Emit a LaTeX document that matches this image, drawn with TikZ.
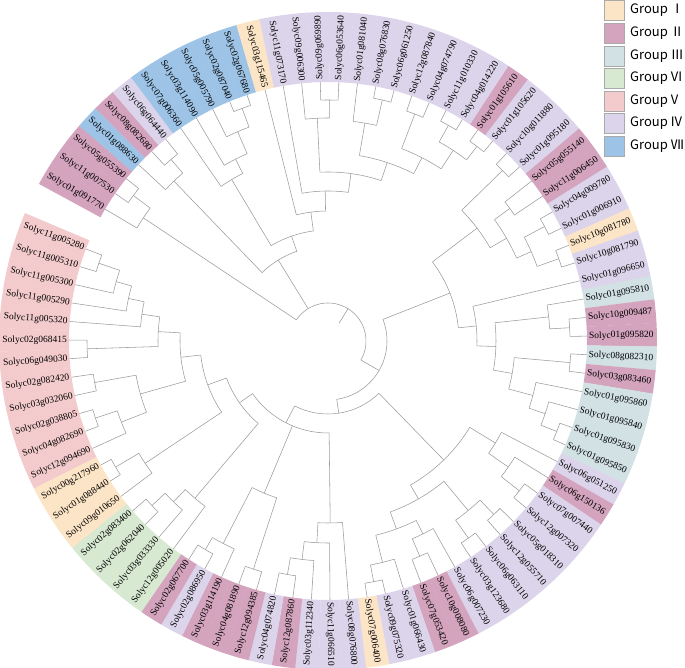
\documentclass[tikz,border=0pt]{standalone}
\usepackage{fontspec}
\setmainfont{Liberation Serif}
\newfontfamily\legfont{Noto Sans CJK SC}
\definecolor{gI}{RGB}{252,228,198}
\definecolor{gII}{RGB}{212,164,190}
\definecolor{gIII}{RGB}{209,225,228}
\definecolor{gVI}{RGB}{216,233,210}
\definecolor{gV}{RGB}{244,203,204}
\definecolor{gIV}{RGB}{220,212,234}
\definecolor{gVII}{RGB}{157,196,230}
\definecolor{treegray}{RGB}{155,155,155}
\definecolor{boxgray}{RGB}{170,170,170}
\def\leaflist{1/gII/Solyc01g091770, 2/gII/Solyc11g007530, 3/gII/Solyc05g055390, 4/gVII/Solyc01g088630, 5/gII/Solyc08g082680, 6/gIV/Solyc06g064440, 7/gVII/Solyc07g006360, 8/gVII/Solyc03g114090, 9/gVII/Solyc05g005790, 10/gVII/Solyc02g087040, 11/gVII/Solyc02g067680, 12/gI/Solyc03g115465, 13/gIV/Solyc11g073170, 14/gIV/Solyc09g006300, 15/gIV/Solyc09g069890, 16/gIV/Solyc06g053640, 17/gIV/Solyc01g081040, 18/gIV/Solyc08g076830, 19/gIV/Solyc06g061250, 20/gIV/Solyc12g087840, 21/gIV/Solyc04g074790, 22/gIV/Solyc11g010330, 23/gIV/Solyc04g014220, 24/gII/Solyc01g105610, 25/gIV/Solyc01g105620, 26/gIV/Solyc10g011880, 27/gIV/Solyc01g095180, 28/gII/Solyc05g055140, 29/gII/Solyc11g006450, 30/gIV/Solyc04g009780, 31/gIV/Solyc01g006910, 32/gI/Solyc10g081780, 33/gIV/Solyc10g081790, 34/gIV/Solyc01g096650, 35/gIII/Solyc01g095810, 36/gII/Solyc10g009487, 37/gII/Solyc01g095820, 38/gIII/Solyc08g082310, 39/gII/Solyc03g083460, 40/gIII/Solyc01g095860, 41/gIII/Solyc01g095840, 42/gIII/Solyc01g095830, 43/gIII/Solyc01g095850, 44/gIV/Solyc06g051250, 45/gII/Solyc06g150136, 46/gIV/Solyc07g007440, 47/gIV/Solyc12g007320, 48/gIV/Solyc05g018310, 49/gIV/Solyc12g055710, 50/gIV/Solyc06g063110, 51/gIV/Solyc03g123680, 52/gIV/Solyc06g007230, 53/gII/Solyc10g008080, 54/gII/Solyc07g053420, 55/gIV/Solyc01g066430, 56/gIV/Solyc09g075320, 57/gI/Solyc07g006400, 58/gIV/Solyc08g076800, 59/gIV/Solyc11g066510, 60/gIV/Solyc03g112340, 61/gII/Solyc12g087860, 62/gIV/Solyc04g074820, 63/gII/Solyc12g094385, 64/gII/Solyc04g081890, 65/gII/Solyc03g114190, 66/gIV/Solyc02g086950, 67/gII/Solyc02g067700, 68/gVI/Solyc12g005020, 69/gVI/Solyc03g033330, 70/gVI/Solyc02g062040, 71/gVI/Solyc02g083400, 72/gI/Solyc09g010650, 73/gI/Solyc01g088440, 74/gI/Solyc00g217960, 75/gV/Solyc12g094690, 76/gV/Solyc04g082690, 77/gV/Solyc02g038805, 78/gV/Solyc03g032060, 79/gV/Solyc02g082420, 80/gV/Solyc06g049030, 81/gV/Solyc02g068415, 82/gV/Solyc11g005320, 83/gV/Solyc11g005290, 84/gV/Solyc11g005300, 85/gV/Solyc11g005310, 86/gV/Solyc11g005280}
% internal node of a circular tree: name, radius, child 1, child 2
\newcommand\cl[4]{%
  \pgfmathsetmacro\clA{\csname a@#3\endcsname}%
  \pgfmathsetmacro\clB{\csname a@#4\endcsname}%
  \pgfmathsetmacro\clM{(\clA+\clB)/2}%
  \global\expandafter\let\csname a@#1\endcsname\clM
  \expandafter\xdef\csname r@#1\endcsname{#2}%
  \edef\rA{\csname r@#3\endcsname}\edef\rB{\csname r@#4\endcsname}%
  \draw[tree] (\clA:#2pt) arc[start angle=\clA, end angle=\clB, radius=#2pt];
  \draw[tree] (\clA:#2pt) -- (\clA:\rA pt);
  \draw[tree] (\clB:#2pt) -- (\clB:\rB pt);
}
% three children
\newcommand\clt[5]{%
  \pgfmathsetmacro\clA{\csname a@#3\endcsname}%
  \pgfmathsetmacro\clB{\csname a@#4\endcsname}%
  \pgfmathsetmacro\clC{\csname a@#5\endcsname}%
  \pgfmathsetmacro\clM{(\clA+\clC)/2}%
  \global\expandafter\let\csname a@#1\endcsname\clM
  \expandafter\xdef\csname r@#1\endcsname{#2}%
  \edef\rA{\csname r@#3\endcsname}\edef\rB{\csname r@#4\endcsname}\edef\rC{\csname r@#5\endcsname}%
  \draw[tree] (\clA:#2pt) arc[start angle=\clA, end angle=\clC, radius=#2pt];
  \draw[tree] (\clA:#2pt) -- (\clA:\rA pt);
  \draw[tree] (\clB:#2pt) -- (\clB:\rB pt);
  \draw[tree] (\clC:#2pt) -- (\clC:\rC pt);
}
\begin{document}
\begin{tikzpicture}[x=1pt,y=1pt,
  tree/.style={draw=treegray, line width=0.55pt},
  lab/.style={inner sep=0pt, font=\fontsize{9.5}{10}\selectfont},
  legbox/.style={draw=boxgray, line width=0.6pt},
  legtext/.style={anchor=west, inner sep=0pt, font=\legfont\fontsize{13}{15}\selectfont}]
\useasboundingbox (0,0) rectangle (685,668);
\clip (0,0) rectangle (685,668);
\begin{scope}[shift={(328,327)}]
% bands and leaf angles
\foreach \i/\g/\t in \leaflist {
  \pgfmathsetmacro\a{149.4-4.12*(\i-1)}
  \global\expandafter\let\csname a@\i\endcsname\a
  \expandafter\gdef\csname r@\i\endcsname{259}
  \pgfmathsetmacro\aa{\a-2.08}
  \pgfmathsetmacro\ab{\a+2.08}
  \fill[\g] (\aa:259pt) arc[start angle=\aa, end angle=\ab, radius=259pt]
     -- (\ab:329pt) arc[start angle=\ab, end angle=\aa, radius=329pt] -- cycle;
}
% labels
\foreach \i/\g/\t in \leaflist {
  \pgfmathsetmacro\a{149.4-4.12*(\i-1)}
  \pgfmathtruncatemacro\flip{cos(\a)<-0.04 ? 1 : 0}
  \ifnum\flip=1
    \pgfmathsetmacro\ra{\a+180}
    \node[lab, anchor=east, rotate=\ra] (L\i) at (\a:261pt) {\t};
  \else
    \node[lab, anchor=west, rotate=\a] (L\i) at (\a:261pt) {\t};
  \fi
}
% tree: upper left
\cl{n23}{243}{2}{3}
\cl{nA}{222}{1}{n23}
\cl{n56}{240}{5}{6}
\cl{n46}{222}{4}{n56}
\cl{n1011}{248}{10}{11}
\cl{n911}{228}{9}{n1011}
\cl{n811}{204}{8}{n911}
\cl{n711}{188}{7}{n811}
% top
\cl{s15}{241}{15}{16}
\cl{s14}{223}{14}{s15}
\cl{s18}{247}{18}{19}
\cl{s17}{221}{17}{s18}
\cl{s20}{243}{20}{21}
\cl{s22}{247}{22}{23}
\cl{s24}{245}{24}{25}
\cl{s2225}{228}{s22}{s24}
\cl{s2025}{206}{s20}{s2225}
\cl{s1725}{188}{s17}{s2025}
\cl{s1425}{169}{s14}{s1725}
\cl{t13}{150}{13}{s1425}
\cl{t12}{130}{12}{t13}
\cl{u}{111}{n711}{t12}
\cl{v}{95}{n46}{u}
% upper right
\cl{i26}{244}{26}{27}
\cl{i28}{225}{28}{29}
\cl{i30}{245}{30}{31}
\cl{i32}{245}{32}{33}
\cl{m}{222}{i30}{i32}
\cl{k}{206}{i28}{m}
\cl{j}{187}{i26}{k}
% right
\cl{e36}{242}{36}{37}
\cl{e35}{222}{35}{e36}
\cl{e38}{243}{38}{39}
\cl{f42}{246}{42}{43}
\cl{f41}{229}{41}{f42}
\cl{f40}{212}{40}{f41}
\cl{q}{187}{e38}{f40}
\cl{p}{168}{e35}{q}
\cl{nn}{149}{34}{p}
\cl{Nr}{131}{j}{nn}
% lower right
\cl{x46}{243}{46}{47}
\cl{x45}{220}{45}{x46}
\cl{G1a}{196}{44}{x45}
\cl{y48}{240}{48}{49}
\cl{y50}{242}{50}{51}
\cl{y4851}{220}{y48}{y50}
\cl{y53}{234}{53}{54}
\cl{y52}{215}{52}{y53}
\cl{z56}{245}{56}{57}
\cl{z55}{228}{55}{z56}
\cl{y5257}{200}{y52}{z55}
\cl{G1b}{182}{y4851}{y5257}
\cl{G1}{166}{G1a}{G1b}
% bottom
\cl{w61}{237}{61}{62}
\cl{w60}{220}{60}{w61}
\cl{w59}{202}{59}{w60}
\cl{G2}{182}{58}{w59}
\cl{d63}{240}{63}{64}
\cl{d66}{242}{66}{67}
\cl{d65}{228}{65}{d66}
\cl{d6367}{165}{d63}{d65}
% lower left
\cl{c70}{241}{70}{71}
\cl{c69}{223}{69}{c70}
\cl{c68}{206}{68}{c69}
\cl{b73}{247}{73}{74}
\cl{b72}{220}{72}{b73}
\cl{a85}{242}{85}{86}
\cl{a84}{220}{84}{a85}
\cl{a83}{204}{83}{a84}
\cl{a82}{188}{82}{a83}
\cl{a80}{241}{80}{81}
\cl{a8086}{170}{a82}{a80}
\cl{a78}{237}{78}{79}
\cl{a76}{245}{76}{77}
\cl{a75}{222}{75}{a76}
\cl{a7579}{195}{a75}{a78}
\cl{aV}{148}{a7579}{a8086}
\cl{VI}{128}{b72}{aV}
\cl{X}{108}{c68}{VI}
\clt{P}{92}{G2}{d6367}{X}
\cl{Y}{73}{G1}{P}
\cl{W}{59}{Nr}{Y}
\clt{Z}{38}{nA}{v}{W}
\pgfmathsetmacro\az{\csname a@Z\endcsname}
\draw[tree] (\az:21pt) -- (\az:38pt);
\end{scope}
% legend
\foreach \yc/\c/\txt in {658/gI/{Group Ⅰ}, 635/gII/{Group Ⅱ}, 612/gIII/{Group Ⅲ}, 590/gVI/{Group VI}, 567/gV/{Group V}, 545/gIV/{Group IV}, 522/gVII/{Group Ⅶ}} {
  \filldraw[legbox, fill=\c] (604,\yc-10) rectangle (624,\yc+10);
  \node[legtext] at (630,\yc) {\txt};
}
\end{tikzpicture}
\end{document}
